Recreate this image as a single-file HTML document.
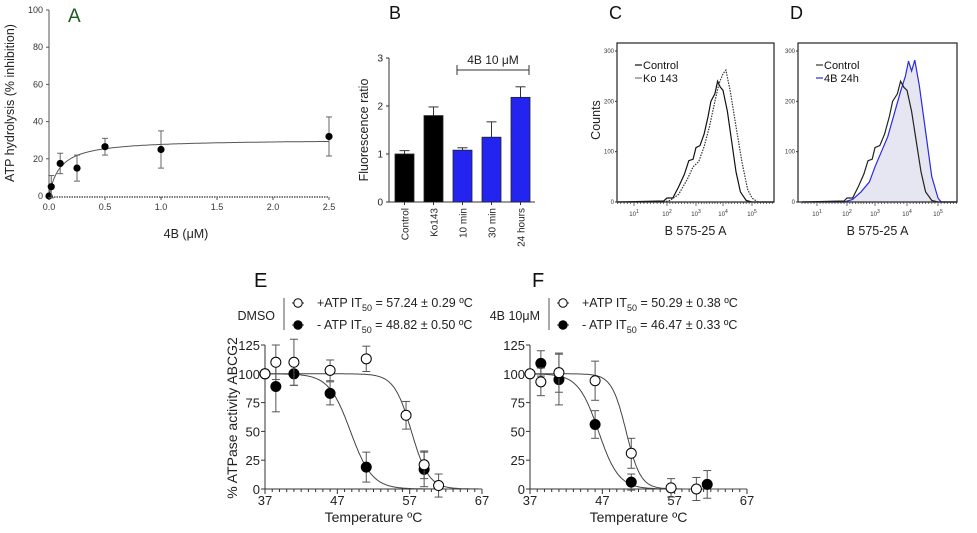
<!DOCTYPE html>
<html><head><meta charset="utf-8"><style>
body{margin:0;background:#fff;width:977px;height:528px;overflow:hidden;font-family:"Liberation Sans",sans-serif}
svg text{font-family:"Liberation Sans",sans-serif}
</style></head><body>
<svg id="s" width="977" height="528" viewBox="0 0 977 528"></svg>
<script>
// Panel A data
const aX=[0,0.02,0.1,0.25,0.5,1,2.5];
const aY=[0,5,17.5,15,26.5,25,32];
const aErr=[0,6,5.5,7,4.5,10,10.5];
const aFit=[30.5,0.1]; // Bmax, Kd
const aXTicks=[0,0.5,1,1.5,2,2.5];
const aYTicks=[0,20,40,60,80,100];
// Panel B data
const bCats=["Control","Ko143","10 min","30 min","24 hours"];
const bVals=[1.0,1.8,1.08,1.35,2.18];
const bErr=[0.07,0.18,0.05,0.32,0.22];
const bBlue=[false,false,true,true,true];
const bYTicks=[0,1,2,3];
// Panel C/D histogram data (log10 intensity, counts)
const cCtrlL=[0.5,1.9,2.0,2.2,2.4,2.6,2.75,2.9,3.0,3.15,3.3,3.45,3.55,3.7,3.8,3.9,4.0,4.15,4.3,4.45,4.6,4.8,5.0,5.8];
const cCtrlC=[0,2,8,8,30,55,82,85,108,112,135,170,200,215,240,228,222,180,120,60,20,3,0,0];
const cKoL=[0.5,1.9,2.1,2.4,2.7,2.9,3.1,3.3,3.5,3.7,3.85,4.0,4.1,4.25,4.45,4.65,4.85,5.0,5.2,5.8];
const cKoC=[0,0,3,15,45,70,80,110,150,200,235,255,262,220,150,80,25,8,0,0];
const d4bL=[0.5,1.9,2.2,2.5,2.8,3.0,3.2,3.4,3.6,3.8,3.95,4.05,4.15,4.25,4.4,4.6,4.8,5.0,5.1,5.8];
const d4bC=[0,0,5,20,40,70,100,130,175,220,250,280,260,282,230,140,50,8,0,0];
const histYTicks=[0,100,200,300];
const histXTicks=[1,2,3,4,5];
// Panel E/F data
const eOpenT=[37,38.5,41,46,51,56.5,59,61];
const eOpenV=[100,110,110,103,113,64,21,3];
const eOpenE=[0,15,20,9,11,12,12,10];
const eFillT=[37,38.5,41,46,51,59];
const eFillV=[100,89,100,83,19,17];
const eFillE=[0,22,10,10,13,15];
const eFit=[[57.24,1.2],[48.82,1.5]];
const fOpenT=[37,38.5,41,46,51,56.5,60];
const fOpenV=[100,93,101,94,31,1,0];
const fOpenE=[0,12,17,17,13,8,10];
const fFillT=[38.5,41,46,51,61.5];
const fFillV=[109,95,56,6,4];
const fFillE=[11,22,12,7,12];
const fFit=[[50.29,1.0],[46.47,1.4]];
const tXTicks=[37,47,57,67];
const tYTicks=[0,25,50,75,100,125];

const S=document.getElementById('s');
const NS='http://www.w3.org/2000/svg';
function mk(tag,at,txt,parent){const e=document.createElementNS(NS,tag);for(const k in at)e.setAttribute(k,at[k]);if(txt!==undefined)e.textContent=txt;(parent||S).appendChild(e);return e;}
function grp(name){const g=mk('g',{});return g;}
function line(g,x1,y1,x2,y2,st,w,da){const l=mk('line',{x1,y1,x2,y2,stroke:st||'#444','stroke-width':w||1},undefined,g);if(da)l.setAttribute('stroke-dasharray',da);return l;}
function txt(g,x,y,s,size,anchor,fill,extra){const t=mk('text',{x,y,'font-size':size,'text-anchor':anchor||'start',fill:fill||'#222'},s,g);if(extra)for(const k in extra)t.setAttribute(k,extra[k]);return t;}

// ---------- Panel A ----------
(function(){
const g=grp('panel-a');
const ax=v=>49+v/2.5*280, ay=v=>196-v/100*186;
txt(g,68,22,'A',19,'start','#1e5a1e');
line(g,49,10,49,196,'#555');
aYTicks.forEach(v=>{line(g,46,ay(v),49,ay(v),'#555');const t=txt(g,43,ay(v)+3,String(v),9,'end','#333');});
line(g,49,197,ax(2.5),197,'#555',1.5,'1.5,1');
aXTicks.forEach(v=>{line(g,ax(v),197,ax(v),200,'#555');const t=txt(g,ax(v),210,v.toFixed(1),9,'middle','#333');});
const yt=txt(g,14,103,'ATP hydrolysis (% inhibition)',12.5,'middle','#222',{transform:'rotate(-90 14 103)'});

const xt=txt(g,186,238,'4B (μM)',12.5,'middle','#222');

let d='';for(let i=0;i<=200;i++){const x=2.5*i/200;const y=aFit[0]*x/(aFit[1]+x);d+=(i?'L':'M')+ax(x).toFixed(1)+','+ay(y).toFixed(1);}
const p=mk('path',{d,fill:'none',stroke:'#555','stroke-width':1},undefined,g);
aX.forEach((x,i)=>{
 if(aErr[i]>0){line(g,ax(x),ay(aY[i]-aErr[i]),ax(x),ay(aY[i]+aErr[i]),'#666');[aY[i]-aErr[i],aY[i]+aErr[i]].forEach(v=>line(g,ax(x)-3,ay(v),ax(x)+3,ay(v),'#666'));}
 const c=mk('circle',{cx:ax(x),cy:ay(aY[i]),r:3.6,fill:'#000'},undefined,g);
 
});
})();

// ---------- Panel B ----------
(function(){
const g=grp('panel-b');
const by=v=>202-v*48;
txt(g,389,19,'B',18,'start','#111');
line(g,389,58,389,202,'#333');line(g,389,202,535,202,'#333');
bYTicks.forEach(v=>{line(g,386,by(v),389,by(v),'#333');const t=txt(g,383,by(v)+3.5,String(v),10,'end','#222');});
const yt=txt(g,368,130,'Fluorescence ratio',12.5,'middle','#222',{transform:'rotate(-90 368 130)'});

bCats.forEach((c,i)=>{
 const x0=395+i*29, w=19, cx=x0+w/2;
 line(g,cx,by(bVals[i]),cx,by(bVals[i]+bErr[i]),'#333');line(g,cx-5,by(bVals[i]+bErr[i]),cx+5,by(bVals[i]+bErr[i]),'#333');
 const r=mk('rect',{x:x0,y:by(bVals[i]),width:w,height:202-by(bVals[i]),fill:bBlue[i]?'#2424f0':'#000',stroke:'#222','stroke-width':0.8},undefined,g);
 
 line(g,cx,202,cx,205,'#333');
 const t=txt(g,cx+4,208,c,10,'end','#222',{transform:'rotate(-90 '+(cx+4)+' 208)'});
 
});
line(g,457,70,529,70,'#333');line(g,457,65,457,75,'#333');line(g,529,65,529,75,'#333');
const bt=txt(g,493,64,'4B 10 μM',12,'middle','#222');
})();

// ---------- Panels C/D ----------
function hist(name,label,left,right,tickPos,series,legend){
const g=grp(name);
const hy=v=>202-v*(151/300);
const lx=l=>{ // piecewise linear on tick positions (logs 1..5)
 if(l<=1)return tickPos[0]+(l-1)*(tickPos[1]-tickPos[0]);
 if(l>=5)return tickPos[4]+(l-5)*(tickPos[4]-tickPos[3]);
 const i=Math.floor(l)-1,f=l-Math.floor(l);return tickPos[i]+f*(tickPos[i+1]-tickPos[i]);};
txt(g,left-8,19,label,18,'start','#111');
series.forEach(s=>{
 let d='';s.L.forEach((l,i)=>{d+=(i?'L':'M')+Math.max(left,Math.min(right,lx(l))).toFixed(1)+','+hy(s.C[i]).toFixed(1);});
 if(s.fill){const f=mk('path',{d:d+'Z',fill:s.fill,stroke:'none'},undefined,g);}
 const p=mk('path',{d,fill:'none',stroke:s.color,'stroke-width':1.2},undefined,g);if(s.dash)p.setAttribute('stroke-dasharray',s.dash);
 
});
mk('rect',{x:left,y:43,width:right-left,height:159,fill:'none',stroke:'#222','stroke-width':1.2},undefined,g);
histYTicks.forEach(v=>{line(g,left-2,hy(v),left,hy(v),'#333');const t=txt(g,left-3,hy(v)+2,String(v),6,'end','#333');});
for(let l=0.5;l<5.9;l+=0.1){const x=lx(l);if(x>left&&x<right){const maj=Math.abs(l-Math.round(l))<0.01;line(g,x,202,x,maj?206:204,'#333',0.7);}}
histXTicks.forEach(l=>{const t=mk('text',{x:lx(l),y:216,'font-size':6,'text-anchor':'middle',fill:'#333'},undefined,g);t.textContent='10';const sp=mk('tspan',{dy:-3,'font-size':5},String(l),t);});
const xt=txt(g,(left+right)/2,235,'B 575-25 A',12.5,'middle','#222');
legend.forEach((lg,i)=>{const y=65+i*13;line(g,left+18,y,left+25,y,lg.color,1.2);const t=txt(g,left+26,y+4,lg.text,11,'start','#111');});
return g;}
hist('panel-c','C',617,774,[634,667,696,723,752],[
 {name:'c-control-curve',L:cCtrlL,C:cCtrlC,color:'#111'},
 {name:'c-ko143-curve',L:cKoL,C:cKoC,color:'#333',dash:'1.5,1.2'}],
 [{text:'Control',color:'#111'},{text:'Ko 143',color:'#777'}]);
hist('panel-d','D',798,957,[817,847,875,907,938],[
 {name:'d-4b-curve',L:d4bL,C:d4bC,color:'#2a2ae0',fill:'#e6e6f3'},
 {name:'d-control-curve',L:cCtrlL,C:cCtrlC,color:'#222'}],
 [{text:'Control',color:'#333'},{text:'4B 24h',color:'#2a2ae0'}]);
(function(){const t=txt(S,600,120,'Counts',12.5,'middle','#222',{transform:'rotate(-90 600 120)'});})();

// ---------- Panels E/F ----------
function thermo(name,label,x0,legLabel,openT,openV,openE,fillT,fillV,fillE,fit,leg1,leg2,labelX){
const g=grp(name);
const tx=t=>x0+(t-37)*(217/30), ty=v=>489-v*(144/125);
txt(g,labelX,287,label,20,'start','#111');
const ll=txt(g,x0+10,320,legLabel,12.5,'end','#222');
line(g,x0+19,298,x0+19,330,'#555');
[[303,false,leg1],[325,true,leg2]].forEach(([y,f,s])=>{line(g,x0+27,y,x0+39,y,'#333');mk('circle',{cx:x0+33,cy:y,r:4.2,fill:f?'#000':'#fff',stroke:'#000','stroke-width':1},undefined,g);
 const t=mk('text',{x:x0+52,y:y+4,'font-size':12.5,fill:'#222'},undefined,g);
 mk('tspan',{},s[0]+'IT',t);mk('tspan',{dy:4,'font-size':9},'50',t);mk('tspan',{dy:-4},s[1],t);});
line(g,x0,345,x0,489,'#333');line(g,x0,489,tx(67),489,'#333');
tYTicks.forEach(v=>{line(g,x0-4,ty(v),x0,ty(v),'#333');const t=txt(g,x0-5,ty(v)+5,String(v),13,'end','#222');});
for(let t=37;t<=67;t++){const maj=(t-37)%10===0;line(g,tx(t),489,tx(t),maj?494:492,'#333');}
tXTicks.forEach(v=>{const t=txt(g,tx(v),505,String(v),13,'middle','#222');});
const xt=txt(g,tx(52),522,'Temperature ºC',14,'middle','#222');
fit.forEach((f,k)=>{let d='';for(let i=0;i<=300;i++){const T=37+30*i/300;const v=100/(1+Math.exp((T-f[0])/f[1]));d+=(i?'L':'M')+tx(T).toFixed(1)+','+ty(v).toFixed(1);}
 const p=mk('path',{d,fill:'none',stroke:'#444','stroke-width':1},undefined,g);});
const pts=(T,V,E,filled)=>T.forEach((t,i)=>{
 if(E[i]>0){line(g,tx(t),ty(V[i]-E[i]),tx(t),ty(V[i]+E[i]),'#555');[V[i]-E[i],V[i]+E[i]].forEach(v=>line(g,tx(t)-4,ty(v),tx(t)+4,ty(v),'#555'));}
 const c=mk('circle',{cx:tx(t),cy:ty(V[i]),r:5,fill:filled?'#000':'#fff',stroke:'#000','stroke-width':1},undefined,g);
 });
pts(fillT,fillV,fillE,true);pts(openT,openV,openE,false);
return g;}
thermo('panel-e','E',265,'DMSO',eOpenT,eOpenV,eOpenE,eFillT,eFillV,eFillE,eFit,['+ATP ',' = 57.24 ± 0.29 ºC'],['- ATP ',' = 48.82 ± 0.50 ºC'],254);
thermo('panel-f','F',530,'4B 10μM',fOpenT,fOpenV,fOpenE,fFillT,fFillV,fFillE,fFit,['+ATP ',' = 50.29 ± 0.38 ºC'],['- ATP ',' = 46.47 ± 0.33 ºC'],532);
(function(){const t=txt(S,237,418,'% ATPase activity ABCG2',14,'middle','#222',{transform:'rotate(-90 237 418)'});})();
</script>
</body></html>
